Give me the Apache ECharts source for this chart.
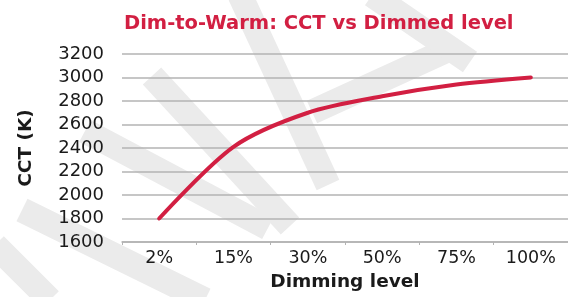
<!DOCTYPE html>
<html>
<head>
<meta charset="utf-8">
<script src="https://cdn.jsdelivr.net/npm/echarts@6/dist/echarts.min.js"></script>
<style>
  html, body { margin: 0; padding: 0; background: #fff; }
  #chart { width: 568px; height: 297px; }
</style>
</head>
<body>
<div id="chart"></div>
<script>
// dimming levels and colour temperature
var levels = ['2%', '15%', '30%', '50%', '75%', '100%'];
var cctValues = [1800, 2410, 2700, 2840, 2940, 3000];
var yMin = 1600, yMax = 3200, yStep = 200;

var red = '#d21f42', grey = '#b3b3b3', ink = '#1a1a1a';
var font = 'DejaVu Sans';

// background watermark bands (decoration only)
var bands = [
	[[85, 131], [268, 228]],
	[[152, 76], [290, 226]],
	[[312, 112], [452, 48]],
	[[240, -5], [328, 185]],
	[[372, -5], [470, 62]],
	[[22, 210], [205, 300]],
	[[-5, 245], [50, 300]]
];

var myChart = echarts.init(document.getElementById('chart'), null, { renderer: 'canvas' });

var graphics = [];
for (var i = 0; i < bands.length; i++) {
	graphics.push({
		type: 'polyline',
		z: -10,
		silent: true,
		shape: { points: bands[i] },
		style: { stroke: '#ebebeb', lineWidth: 25, fill: null }
	});
}

var option = {
	animation: false,
	textStyle: { fontFamily: font },
	graphic: graphics,
	title: {
		text: 'Dim-to-Warm: CCT vs Dimmed level',
		left: 119,
		top: 9,
		textStyle: {
			color: red,
			fontSize: 19.5,
			fontWeight: 'bold',
			fontFamily: font
		}
	},
	grid: { left: 122, right: -9, top: 54, bottom: 53 },
	xAxis: {
		type: 'category',
		data: levels,
		name: 'Dimming level',
		nameLocation: 'middle',
		nameGap: 31,
		nameTextStyle: { color: ink, fontSize: 18.5, fontWeight: 'bold' },
		axisLine: { lineStyle: { color: grey, width: 1.5 } },
		axisTick: { show: true, length: 3, lineStyle: { color: grey } },
		axisLabel: { color: ink, fontSize: 17.5, margin: 7 }
	},
	yAxis: {
		type: 'value',
		min: yMin,
		max: yMax,
		interval: yStep,
		name: 'CCT (K)',
		nameLocation: 'middle',
		nameGap: 86,
		nameRotate: 90,
		nameTextStyle: { color: ink, fontSize: 18.5, fontWeight: 'bold' },
		axisLine: { show: false },
		axisTick: { show: false },
		axisLabel: {
			color: ink,
			fontSize: 18,
			margin: 18,
			formatter: function (v) { return String(v); }
		},
		splitLine: { lineStyle: { color: grey, width: 1.5 } }
	},
	series: [{
		name: 'CCT',
		type: 'line',
		data: cctValues,
		smooth: 0.3,
		symbol: 'none',
		lineStyle: { color: red, width: 4, cap: 'round' }
	}]
};

myChart.setOption(option);
</script>
</body>
</html>
